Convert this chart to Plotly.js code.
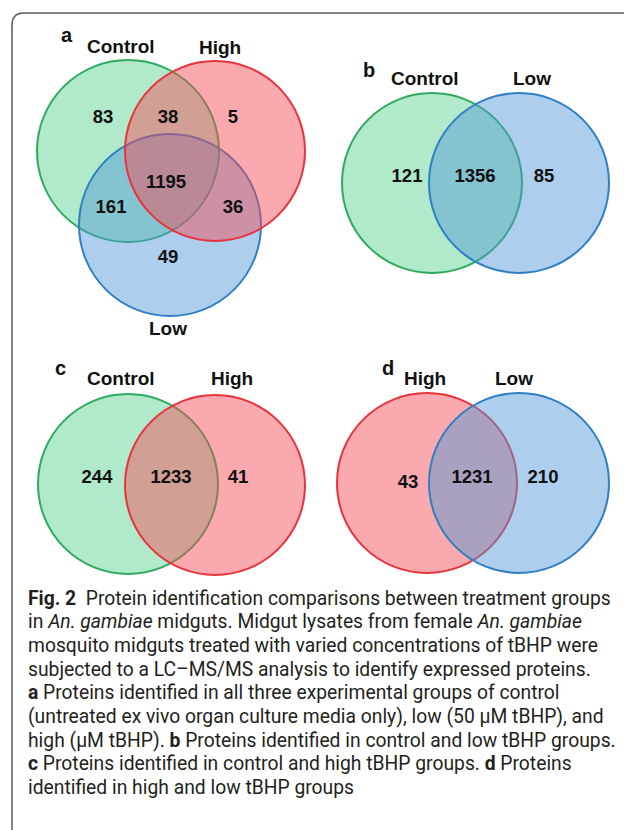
<!DOCTYPE html>
<html>
<head>
<meta charset="utf-8">
<script src="https://cdn.plot.ly/plotly-3.0.1.min.js"></script>
<style>html,body{margin:0;padding:0;background:#fff;}#chart{width:624px;height:830px;}</style>
</head>
<body>
<div id="chart"></div>
<script>
// ---------- DATA ----------
const panelLetters = ['a', 'b', 'c', 'd'];
const setNamesA = ['Control', 'High', 'Low'];
const countsA = [83, 38, 5, 1195, 161, 36, 49]; // C only, C∩H, H only, C∩H∩L, C∩L, H∩L, L only
const setNamesB = ['Control', 'Low'];
const countsB = [121, 1356, 85];
const setNamesC = ['Control', 'High'];
const countsC = [244, 1233, 41];
const setNamesD = ['High', 'Low'];
const countsD = [43, 1231, 210];
const captionLines = [
  '<b>Fig. 2</b>  Protein identification comparisons between treatment groups',
  'in <i>An. gambiae</i> midguts. Midgut lysates from female <i>An. gambiae</i>',
  'mosquito midguts treated with varied concentrations of tBHP were',
  'subjected to a LC–MS/MS analysis to identify expressed proteins.',
  '<b>a</b> Proteins identified in all three experimental groups of control',
  '(untreated ex vivo organ culture media only), low (50 µM tBHP), and',
  'high (µM tBHP). <b>b</b> Proteins identified in control and low tBHP groups.',
  '<b>c</b> Proteins identified in control and high tBHP groups. <b>d</b> Proteins',
  'identified in high and low tBHP groups'
];

// ---------- STYLE / GEOMETRY ----------
const setStyle = {
  Control: {fill: 'rgba(90,210,145,0.47)', line: '#2eaa5e'},
  High:    {fill: 'rgba(245,75,85,0.47)',  line: '#e8333c'},
  Low:     {fill: 'rgba(80,150,215,0.47)', line: '#2f7fc4'}
};
const panels = [
  {letter: panelLetters[0], letterPos: [67, 35], names: setNamesA, counts: countsA, drawOrder: [0, 2, 1],
   circles: [[128, 151, 91], [215, 151, 90], [170, 225, 91]],
   namePos: [[121, 46], [220, 47], [168, 328]],
   countPos: [[103, 118], [168, 118], [233, 118], [166, 183], [111, 208], [233, 208], [168, 258]]},
  {letter: panelLetters[1], letterPos: [369, 70], names: setNamesB, counts: countsB, drawOrder: [0, 1],
   circles: [[432, 183, 90], [519, 183, 90]],
   namePos: [[425, 78], [532, 78]],
   countPos: [[407, 177], [475, 177], [544, 177]]},
  {letter: panelLetters[2], letterPos: [60, 368], names: setNamesC, counts: countsC, drawOrder: [0, 1],
   circles: [[128, 484, 90], [215, 485, 90]],
   namePos: [[121, 378], [232, 378]],
   countPos: [[97, 478], [171, 478], [238, 478]]},
  {letter: panelLetters[3], letterPos: [388, 368], names: setNamesD, counts: countsD, drawOrder: [0, 1],
   circles: [[427, 483, 90], [519, 483, 90]],
   namePos: [[425, 378], [514, 378]],
   countPos: [[408, 483], [472, 478], [543, 478]]}
];

const shapes = [];
const annotations = [];
const traces = [];
const boldFont = {family: 'Liberation Sans, Arial, sans-serif', color: '#111', weight: 'bold'};

// frame
shapes.push({type: 'path', xref: 'x', yref: 'y', layer: 'below', path: 'M 12 830 L 12 25 Q 12 13 24 13 L 624 13',
  line: {color: '#5a5a5a', width: 1.5}});

panels.forEach(p => {
  p.drawOrder.forEach(i => {
    const nm = p.names[i];
    const [cx, cy, r] = p.circles[i];
    shapes.push({type: 'circle', xref: 'x', yref: 'y', layer: 'below', x0: cx - r, x1: cx + r, y0: cy - r, y1: cy + r,
      fillcolor: setStyle[nm].fill, line: {color: setStyle[nm].line, width: 2}});
  });
  p.names.forEach((nm, i) => {
    annotations.push({x: p.namePos[i][0], y: p.namePos[i][1], xref: 'x', yref: 'y', text: nm,
      showarrow: false, xanchor: 'center', yanchor: 'middle',
      font: Object.assign({}, boldFont, {size: 19})});
  });
  annotations.push({x: p.letterPos[0], y: p.letterPos[1], xref: 'x', yref: 'y', text: p.letter,
    showarrow: false, xanchor: 'center', yanchor: 'middle', font: Object.assign({}, boldFont, {size: 20})});
  traces.push({type: 'scatter', mode: 'text', x: p.countPos.map(c => c[0]), y: p.countPos.map(c => c[1]),
    text: p.counts.map(String), textposition: 'middle center', hoverinfo: 'skip',
    textfont: {family: 'Liberation Sans, Arial, sans-serif', size: 18.5, color: '#111', weight: 'bold'},
    showlegend: false});
});

captionLines.forEach((ln, i) => {
  annotations.push({x: 26, y: 598 + i * 23.7, xref: 'x', yref: 'y', text: ln, showarrow: false,
    xanchor: 'left', yanchor: 'middle', align: 'left',
    font: {family: 'Roboto, sans-serif', size: 19.3, color: '#231f20'}});
});

const layout = {
  width: 624, height: 830, margin: {l: 0, r: 0, t: 0, b: 0},
  paper_bgcolor: '#fff', plot_bgcolor: 'rgba(0,0,0,0)', showlegend: false,
  xaxis: {range: [0, 624], visible: false, fixedrange: true},
  yaxis: {range: [830, 0], visible: false, fixedrange: true},
  shapes: shapes, annotations: annotations
};
Plotly.newPlot('chart', traces, layout, {displayModeBar: false, staticPlot: true});
</script>
</body>
</html>
